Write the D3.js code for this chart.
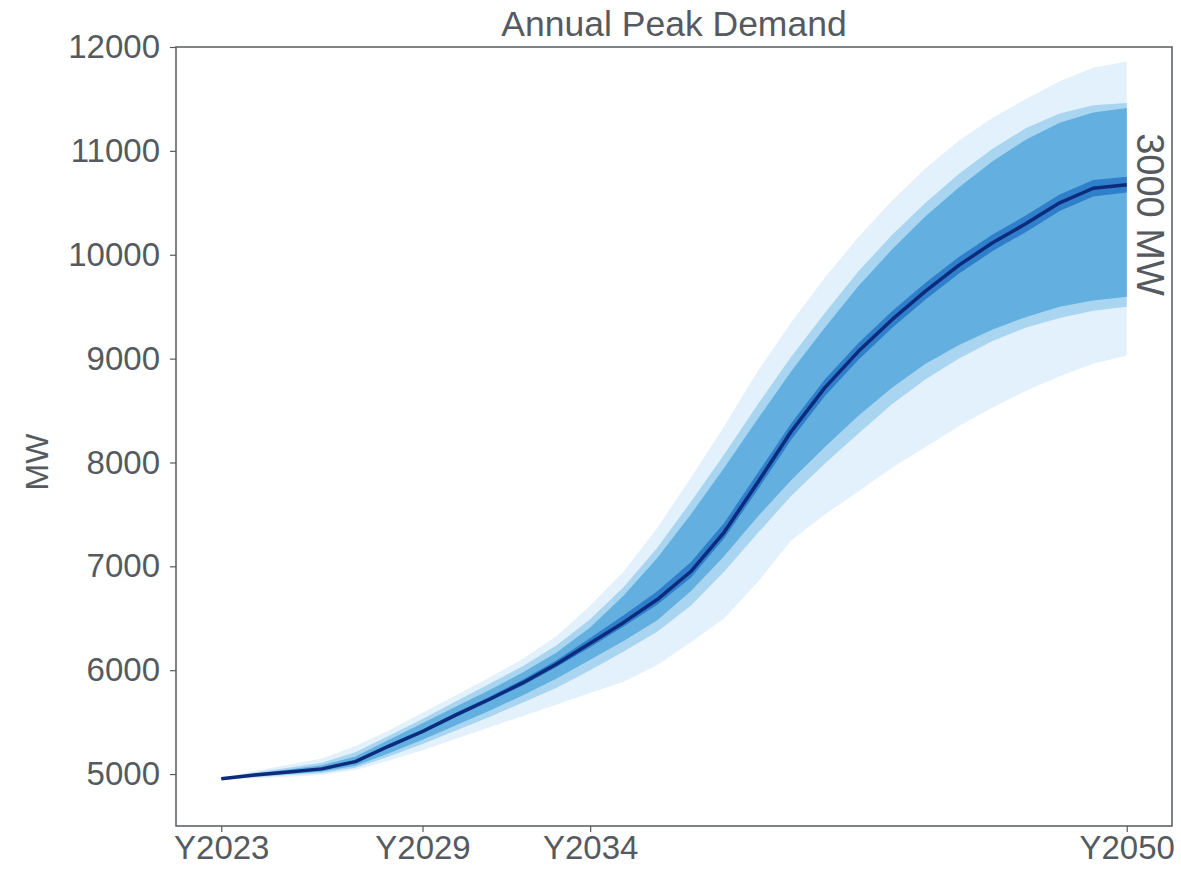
<!DOCTYPE html>
<html>
<head>
<meta charset="utf-8">
<script src="https://cdn.jsdelivr.net/npm/d3@7"></script>
<style>
  body { margin: 0; background: #fff; }
  text { font-family: "Liberation Sans", Arial, sans-serif; fill: #555a60; }
</style>
</head>
<body>
<div id="chart"></div>
<script>
// Annual peak demand fan chart (MW)
const years = d3.range(2023, 2051);
const tickYears = [2023, 2029, 2034, 2050];

const median = [4955, 4990, 5020, 5050, 5120, 5270, 5410, 5570, 5720, 5880, 6060, 6260, 6460, 6680,
  6950, 7330, 7810, 8300, 8720, 9070, 9375, 9650, 9900, 10115, 10300, 10500, 10640, 10673];

// outermost band
const outerLo = [4945, 4960, 4975, 4990, 5040, 5130, 5230, 5340, 5450, 5560, 5670, 5780, 5890, 6050,
  6270, 6500, 6850, 7250, 7500, 7720, 7950, 8150, 8350, 8530, 8690, 8830, 8950, 9030];
const outerHi = [4965, 5030, 5090, 5150, 5270, 5420, 5590, 5760, 5930, 6110, 6330, 6620, 6950, 7370,
  7850, 8350, 8880, 9350, 9780, 10170, 10520, 10830, 11100, 11320, 11500, 11670, 11800, 11860];

// second band
const lightLo = [4950, 4970, 4990, 5010, 5060, 5170, 5290, 5420, 5550, 5690, 5830, 6000, 6180, 6370,
  6620, 6950, 7320, 7680, 7990, 8280, 8560, 8800, 9000, 9170, 9300, 9390, 9460, 9500];
const lightHi = [4960, 5015, 5060, 5110, 5210, 5370, 5530, 5700, 5870, 6040, 6240, 6490, 6800, 7180,
  7620, 8080, 8560, 9020, 9440, 9840, 10190, 10500, 10780, 11020, 11220, 11360, 11440, 11460];

// middle band
const midLo = [4952, 4978, 5000, 5025, 5080, 5200, 5330, 5470, 5610, 5760, 5920, 6100, 6280, 6480,
  6760, 7100, 7480, 7830, 8150, 8450, 8720, 8950, 9130, 9280, 9400, 9500, 9560, 9596];
const midHi = [4958, 5005, 5045, 5085, 5170, 5330, 5490, 5650, 5810, 5980, 6170, 6410, 6720, 7080,
  7500, 7950, 8420, 8880, 9300, 9700, 10050, 10370, 10650, 10900, 11110, 11270, 11370, 11413];

// inner band around median
const innerLo = [4953, 4984, 5012, 5040, 5108, 5250, 5390, 5550, 5700, 5855, 6030, 6220, 6420, 6630,
  6890, 7270, 7740, 8220, 8640, 8990, 9295, 9570, 9820, 10035, 10220, 10420, 10560, 10600];
const innerHi = [4957, 4996, 5030, 5062, 5135, 5290, 5430, 5590, 5745, 5910, 6095, 6310, 6530, 6760,
  7040, 7420, 7900, 8380, 8800, 9150, 9455, 9730, 9980, 10195, 10380, 10580, 10720, 10750];

const svg = d3.select('#chart').append('svg')
  .attr('width', 1181)
  .attr('height', 872);

const margin = {top: 47, right: 9, bottom: 46, left: 176};
const width = 1181 - margin.left - margin.right;
const height = 872 - margin.top - margin.bottom;
const g = svg.append('g').attr('transform', `translate(${margin.left},${margin.top})`);

const x = d3.scaleLinear().domain([2023 - 1.35, 2050 + 1.35]).range([0, width]);
const y = d3.scaleLinear().domain([4500, 12000]).range([height, 0]);

const bands = [
  {lo: outerLo, hi: outerHi, color: '#e2f1fb'},
  {lo: lightLo, hi: lightHi, color: '#a9d5f1'},
  {lo: midLo, hi: midHi, color: '#63b0e0'},
  {lo: innerLo, hi: innerHi, color: '#2f7fcb'}
];

const area = d3.area()
  .x(d => x(d.year))
  .y0(d => y(d.lo))
  .y1(d => y(d.hi));

bands.forEach(b => {
  g.append('path')
    .datum(years.map((yr, i) => ({year: yr, lo: b.lo[i], hi: b.hi[i]})))
    .attr('fill', b.color)
    .attr('d', area);
});

const line = d3.line()
  .x(d => x(d.year))
  .y(d => y(d.v));

g.append('path')
  .datum(years.map((yr, i) => ({year: yr, v: median[i]})))
  .attr('fill', 'none')
  .attr('stroke', '#0d2b7c')
  .attr('stroke-width', 3.5)
  .attr('stroke-linejoin', 'round')
  .attr('d', line);

// axes
const yAxis = g.append('g')
  .call(d3.axisLeft(y).tickValues(d3.range(5000, 12001, 1000)).tickSize(6).tickPadding(10).tickFormat(d3.format('d')));
const xAxis = g.append('g')
  .attr('transform', `translate(0,${height})`)
  .call(d3.axisBottom(x).tickValues(tickYears).tickSize(6).tickPadding(4).tickFormat(d => 'Y' + d));

[yAxis, xAxis].forEach(a => {
  a.select('.domain').remove();
  a.selectAll('.tick line').attr('stroke', '#555a60').attr('stroke-width', 1.2);
  a.selectAll('.tick text').attr('font-size', 33).attr('fill', '#555a60')
    .style('font-family', '"Liberation Sans", Arial, sans-serif');
});

// frame
g.append('rect')
  .attr('width', width)
  .attr('height', height)
  .attr('fill', 'none')
  .attr('stroke', '#555a60')
  .attr('stroke-width', 1.5);

// labels
svg.append('text')
  .attr('x', margin.left + width / 2)
  .attr('y', 36)
  .attr('text-anchor', 'middle')
  .attr('font-size', 35.5)
  .text('Annual Peak Demand');

svg.append('text')
  .attr('transform', 'translate(48,462) rotate(-90)')
  .attr('text-anchor', 'middle')
  .attr('font-size', 32)
  .text('MW');

svg.append('text')
  .attr('transform', `translate(${margin.left + x(2050) + 10},${margin.top + y(11170)}) rotate(90)`)
  .attr('text-anchor', 'start')
  .attr('font-size', 38)
  .text('3000 MW');
</script>
</body>
</html>
